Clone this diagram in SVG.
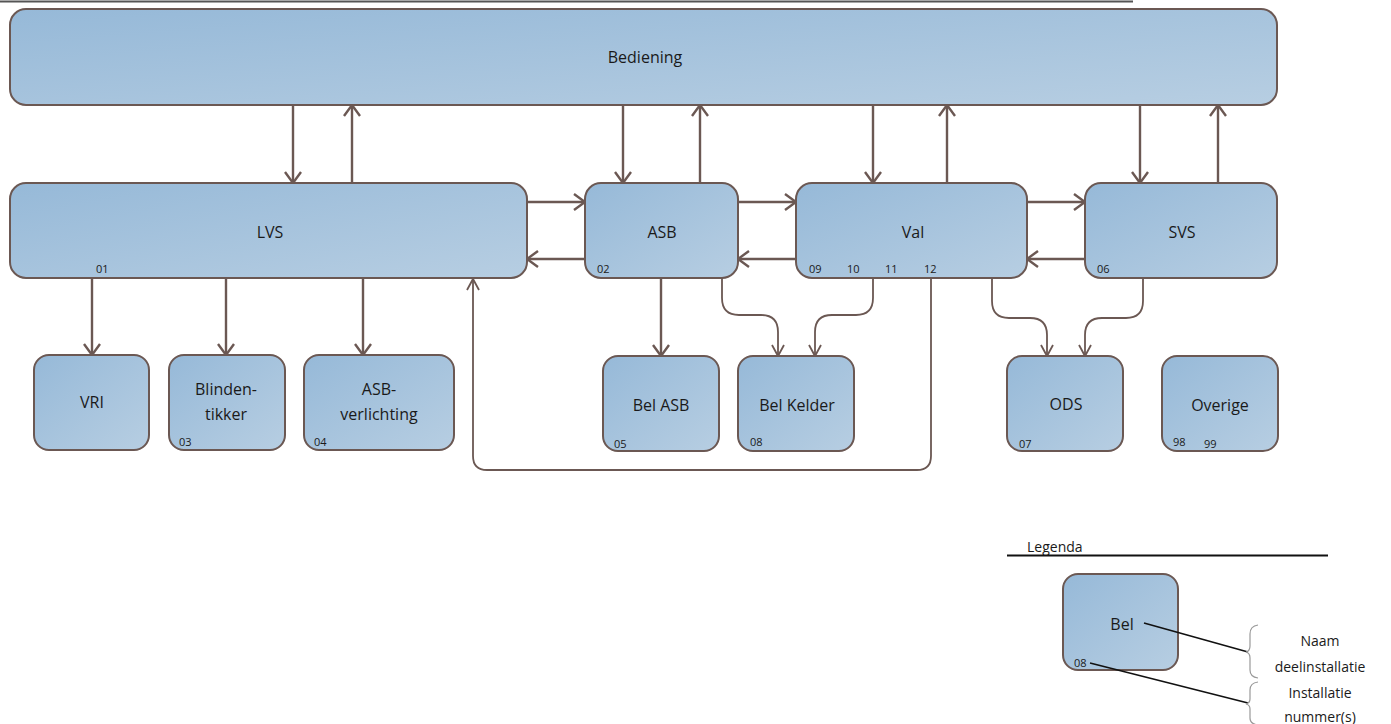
<svg xmlns="http://www.w3.org/2000/svg" width="1391" height="724" viewBox="0 0 1391 724">
<defs>
<linearGradient id="g" x1="0" y1="0" x2="1" y2="1">
<stop offset="0" stop-color="#96b9d8"/>
<stop offset="1" stop-color="#b7cee2"/>
</linearGradient>
<marker id="ah" markerUnits="userSpaceOnUse" markerWidth="14" markerHeight="20" refX="12" refY="9" orient="auto">
<path d="M1,1 L12,9 L1,17" fill="none" stroke="#6b5853" stroke-width="2.4"/>
</marker>
<marker id="ah2" markerUnits="userSpaceOnUse" markerWidth="14" markerHeight="16" refX="12" refY="7" orient="auto">
<path d="M1,1 L12,7 L1,13" fill="none" stroke="#6b5853" stroke-width="1.8"/>
</marker>
</defs>
<style>
.box{fill:url(#g);stroke:#6b5853;stroke-width:2}
.lbl{font-family:"Open Sans","Liberation Sans",sans-serif;font-size:16px;fill:#1a1a1a;text-anchor:middle;dominant-baseline:central}
.num{font-family:"Open Sans","Liberation Sans",sans-serif;font-size:11px;fill:#1a1a1a}
.c{fill:none;stroke:#6b5853;stroke-width:2.4;marker-end:url(#ah)}
.c2{fill:none;stroke:#6b5853;stroke-width:1.8;marker-end:url(#ah2)}
.ln{fill:none;stroke:#111;stroke-width:1.6}
</style>
<rect width="1391" height="724" fill="#ffffff"/>
<line x1="0" y1="1.5" x2="1133" y2="1.5" stroke="#555" stroke-width="2"/>

<g id="connectors">
<line class="c" x1="293" y1="105" x2="293" y2="183"/>
<line class="c" x1="352" y1="183" x2="352" y2="105"/>
<line class="c" x1="623" y1="105" x2="623" y2="183"/>
<line class="c" x1="700" y1="183" x2="700" y2="105"/>
<line class="c" x1="873" y1="105" x2="873" y2="183"/>
<line class="c" x1="947" y1="183" x2="947" y2="105"/>
<line class="c" x1="1140" y1="105" x2="1140" y2="183"/>
<line class="c" x1="1218" y1="183" x2="1218" y2="105"/>
<line class="c" x1="527" y1="202" x2="585" y2="202"/>
<line class="c" x1="585" y1="259" x2="527" y2="259"/>
<line class="c" x1="738" y1="202" x2="796" y2="202"/>
<line class="c" x1="796" y1="259" x2="738" y2="259"/>
<line class="c" x1="1027" y1="202" x2="1085" y2="202"/>
<line class="c" x1="1085" y1="259" x2="1027" y2="259"/>
<line class="c" x1="92" y1="278" x2="92" y2="355"/>
<line class="c" x1="226" y1="278" x2="226" y2="355"/>
<line class="c" x1="363" y1="278" x2="363" y2="355"/>
<line class="c" x1="661" y1="278" x2="661" y2="356"/>
<path class="c2" d="M722,278 V298 Q722,315 739,315 H761 Q778,315 778,332 V356"/>
<path class="c2" d="M873,278 V298 Q873,315 856,315 H832 Q815,315 815,332 V356"/>
<path class="c2" d="M992,278 V301 Q992,318 1009,318 H1030 Q1047,318 1047,335 V356"/>
<path class="c2" d="M1143,278 V301 Q1143,318 1126,318 H1102 Q1085,318 1085,335 V356"/>
<path class="c2" d="M931,278 V456 Q931,470 917,470 H487 Q473,470 473,456 V279"/>
</g>

<g id="bediening"><rect class="box" x="10" y="9" width="1267" height="96" rx="16"/><text class="lbl" x="645" y="57">Bediening</text></g>
<g id="lvs"><rect class="box" x="10" y="183" width="517" height="95" rx="16"/><text class="lbl" x="270" y="232">LVS</text><text class="num" x="96" y="273">01</text></g>
<g id="asb"><rect class="box" x="585" y="183" width="153" height="95" rx="16"/><text class="lbl" x="662" y="232">ASB</text><text class="num" x="597" y="273">02</text></g>
<g id="val"><rect class="box" x="796" y="183" width="231" height="95" rx="16"/><text class="lbl" x="913" y="232">Val</text><text class="num" x="809" y="273">09</text><text class="num" x="847" y="273">10</text><text class="num" x="885" y="273">11</text><text class="num" x="924" y="273">12</text></g>
<g id="svs"><rect class="box" x="1085" y="183" width="192" height="95" rx="16"/><text class="lbl" x="1182" y="232">SVS</text><text class="num" x="1097" y="273">06</text></g>
<g id="vri"><rect class="box" x="34" y="355" width="115" height="95" rx="15"/><text class="lbl" x="92" y="402">VRI</text></g>
<g id="blindentikker"><rect class="box" x="169" y="355" width="116" height="95" rx="15"/><text class="lbl" x="226" y="389">Blinden-</text><text class="lbl" x="226" y="414">tikker</text><text class="num" x="179" y="446">03</text></g>
<g id="asb-verlichting"><rect class="box" x="304" y="355" width="150" height="95" rx="15"/><text class="lbl" x="379" y="389">ASB-</text><text class="lbl" x="379" y="414">verlichting</text><text class="num" x="314" y="446">04</text></g>
<g id="bel-asb"><rect class="box" x="603" y="356" width="116" height="95" rx="15"/><text class="lbl" x="661" y="405">Bel ASB</text><text class="num" x="614" y="448">05</text></g>
<g id="bel-kelder"><rect class="box" x="738" y="356" width="116" height="95" rx="15"/><text class="lbl" x="797" y="405">Bel Kelder</text><text class="num" x="750" y="446">08</text></g>
<g id="ods"><rect class="box" x="1007" y="356" width="116" height="95" rx="15"/><text class="lbl" x="1066" y="404">ODS</text><text class="num" x="1019" y="448">07</text></g>
<g id="overige"><rect class="box" x="1162" y="356" width="116" height="95" rx="15"/><text class="lbl" x="1220" y="405">Overige</text><text class="num" x="1173" y="446">98</text><text class="num" x="1204" y="448">99</text></g>

<g id="legend">
<text x="1027" y="552" style="font-family:'Open Sans','Liberation Sans',sans-serif;font-size:14px;fill:#1a1a1a">Legenda</text>
<line x1="1007" y1="555.5" x2="1328" y2="555.5" stroke="#111" stroke-width="2.2"/>
<rect class="box" x="1063" y="574" width="115" height="96" rx="15"/>
<text class="lbl" x="1122" y="624">Bel</text>
<text class="num" x="1074" y="667">08</text>
<line class="ln" x1="1144" y1="623" x2="1248" y2="652"/>
<line class="ln" x1="1090" y1="663" x2="1248" y2="703"/>
<path d="M1258,625 Q1250,626 1250,634 V646 Q1250,651 1246,652 Q1250,653 1250,658 V670 Q1250,677 1258,678" fill="none" stroke="#999" stroke-width="1.2"/>
<path d="M1258,682 Q1250,683 1250,690 V699 Q1250,703 1246,704 Q1250,705 1250,709 V718 Q1250,724 1258,725" fill="none" stroke="#999" stroke-width="1.2"/>
<text class="lbl" x="1320" y="640" style="font-size:14px">Naam</text>
<text class="lbl" x="1320" y="666" style="font-size:14px">deelinstallatie</text>
<text class="lbl" x="1320" y="692" style="font-size:14px">Installatie</text>
<text class="lbl" x="1320" y="716" style="font-size:14px">nummer(s)</text>
</g>
</svg>
